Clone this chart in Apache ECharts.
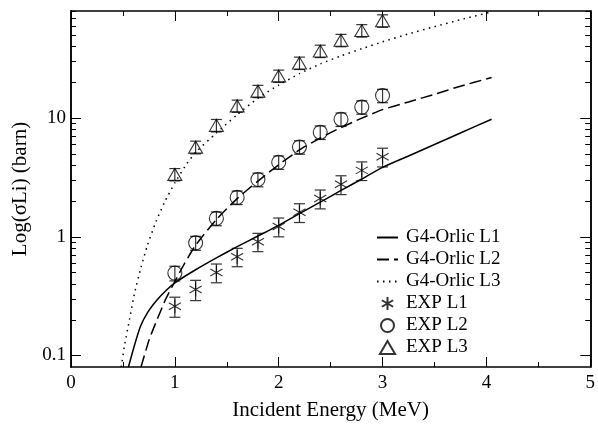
<!DOCTYPE html>
<html>
<head>
<meta charset="utf-8">
<script src="https://cdn.jsdelivr.net/npm/echarts@6/dist/echarts.min.js"></script>
<style>
  html, body { margin: 0; padding: 0; background: #fff; }
  #chart { width: 598px; height: 426px; }
</style>
</head>
<body>
<div id="chart"></div>
<script>
// G4-Orlic model curves (energy in MeV, cross section in barn)
const energyL1 = [0.553, 0.61, 0.67, 0.74, 0.83, 0.92, 1.0, 1.2, 1.4, 1.6, 1.8, 2.0, 2.2, 2.4, 2.6, 2.8, 3.0, 3.25, 3.5, 3.75, 4.05];
const sigmaL1 = [0.08, 0.121, 0.177, 0.232, 0.295, 0.357, 0.41, 0.528, 0.665, 0.826, 1.016, 1.25, 1.57, 1.96, 2.46, 3.07, 3.85, 4.8, 6.0, 7.5, 9.8];

const energyL2 = [0.674, 0.754, 0.833, 0.913, 1.0, 1.09, 1.2, 1.4, 1.6, 1.8, 2.0, 2.2, 2.4, 2.6, 2.8, 3.0, 3.25, 3.5, 3.75, 4.05];
const sigmaL2 = [0.08, 0.137, 0.205, 0.30, 0.42, 0.59, 0.85, 1.4, 2.1, 2.95, 4.05, 5.4, 6.8, 8.35, 10.0, 11.8, 13.7, 15.9, 18.6, 22.0];

const energyL3 = [0.484, 0.515, 0.563, 0.611, 0.674, 0.738, 0.818, 0.9, 1.0, 1.1, 1.2, 1.4, 1.6, 1.8, 2.0, 2.2, 2.4, 2.6, 2.8, 3.0, 3.25, 3.5, 3.75, 4.05];
const sigmaL3 = [0.08, 0.121, 0.2, 0.333, 0.552, 0.86, 1.34, 1.95, 2.85, 3.95, 5.15, 7.5, 10.7, 14.7, 19.0, 23.7, 28.6, 33.5, 38.5, 44, 51.3, 59, 67.6, 78.6];

// experimental points and their errors
const expEnergy = [1.0, 1.2, 1.4, 1.6, 1.8, 2.0, 2.2, 2.4, 2.6, 2.8, 3.0];
const expL1 = [0.26, 0.36, 0.50, 0.68, 0.91, 1.22, 1.61, 2.1, 2.77, 3.63, 4.73];
const expL2 = [0.495, 0.89, 1.43, 2.15, 3.04, 4.25, 5.71, 7.6, 9.78, 12.4, 15.5];
const expL3 = [3.36, 5.7, 8.7, 12.7, 16.9, 22.7, 29.2, 36.8, 45.4, 54.8, 66.3];
const errL1 = [0.05, 0.07, 0.09, 0.12, 0.16, 0.22, 0.29, 0.38, 0.5, 0.65, 0.85];
const errL2 = [0.07, 0.12, 0.19, 0.28, 0.4, 0.55, 0.74, 0.99, 1.27, 1.6, 2.0];
const errL3 = [0.4, 0.7, 1.05, 1.5, 2.0, 2.7, 3.5, 4.4, 5.4, 6.6, 8.0];

// axis ticks
const xTicks = [0, 1, 2, 3, 4, 5];
const yMajorTicks = [0.1, 1, 10];
const yMinorTicks = [0.2, 0.3, 0.4, 0.5, 0.6, 0.7, 0.8, 0.9, 2, 3, 4, 5, 6, 7, 8, 9, 20, 30, 40, 50, 60, 70, 80];

const FONT = '"Liberation Serif", "DejaVu Serif", serif';
const zip = (xs, ys) => xs.map((x, i) => [x, ys[i]]);
const errData = (ys, es) => expEnergy.map((x, i) => [x, ys[i] - es[i], ys[i] + es[i]]);

function errorBar(params, api) {
  const lo = api.coord([api.value(0), api.value(1)]);
  const hi = api.coord([api.value(0), api.value(2)]);
  const w = 5.5;
  const style = { stroke: '#333', lineWidth: 1.2 };
  return {
    type: 'group',
    children: [
      { type: 'line', shape: { x1: lo[0], y1: lo[1], x2: hi[0], y2: hi[1] }, style },
      { type: 'line', shape: { x1: lo[0] - w, y1: lo[1], x2: lo[0] + w, y2: lo[1] }, style },
      { type: 'line', shape: { x1: hi[0] - w, y1: hi[1], x2: hi[0] + w, y2: hi[1] }, style }
    ]
  };
}

const chart = echarts.init(document.getElementById('chart'));

const xBase = {
  type: 'value', min: 0, max: 5, interval: 1,
  axisLine: { lineStyle: { color: '#000', width: 1.5 } },
  axisTick: { inside: true, length: 10, lineStyle: { color: '#000' } },
  minorTick: { show: true, splitNumber: 2, length: 5, lineStyle: { color: '#000' } },
  splitLine: { show: false }
};
const yBase = {
  type: 'log', logBase: 10, min: 0.08, max: 80,
  axisLine: { show: true, lineStyle: { color: '#000', width: 1.5 } },
  splitLine: { show: false }
};
const hideSymbol = { itemStyle: { opacity: 0 } };

chart.setOption({
  animation: false,
  textStyle: { fontFamily: FONT },
  grid: { left: 71, right: 4, top: 11, bottom: 50 },
  xAxis: [
    Object.assign({}, xBase, {
      position: 'bottom',
      name: 'Incident Energy (MeV)', nameLocation: 'middle', nameGap: 33,
      nameTextStyle: { fontFamily: FONT, fontSize: 21, color: '#000' },
      axisLabel: { color: '#000', fontFamily: FONT, fontSize: 19, margin: 7, customValues: xTicks }
    }),
    Object.assign({}, xBase, { position: 'top', axisLabel: { show: false } })
  ],
  yAxis: [
    Object.assign({}, yBase, {
      position: 'left',
      name: 'Log(σLi) (barn)', nameLocation: 'middle', nameGap: 36, nameRotate: 90,
      nameTextStyle: { fontFamily: FONT, fontSize: 21, color: '#000' },
      axisTick: { inside: true, length: 10, customValues: yMajorTicks, lineStyle: { color: '#000' } },
      axisLabel: { color: '#000', fontFamily: FONT, fontSize: 19, margin: 5, customValues: yMajorTicks,
        formatter: v => String(v) }
    }),
    Object.assign({}, yBase, {
      position: 'left',
      axisTick: { inside: true, length: 5, customValues: yMinorTicks, lineStyle: { color: '#000' } },
      axisLabel: { show: false }
    }),
    Object.assign({}, yBase, {
      position: 'right',
      axisTick: { inside: true, length: 10, customValues: yMajorTicks, lineStyle: { color: '#000' } },
      axisLabel: { show: false }
    }),
    Object.assign({}, yBase, {
      position: 'right',
      axisTick: { inside: true, length: 5, customValues: yMinorTicks, lineStyle: { color: '#000' } },
      axisLabel: { show: false }
    })
  ],
  legend: {
    orient: 'vertical', left: 376, top: 228, padding: 0,
    itemWidth: 21, itemHeight: 13, itemGap: 3,
    textStyle: { fontFamily: FONT, fontSize: 19, color: '#000', padding: [0, 0, 0, 3] },
    data: [
      Object.assign({ name: 'G4-Orlic L1' }, hideSymbol),
      Object.assign({ name: 'G4-Orlic L2' }, hideSymbol),
      Object.assign({ name: 'G4-Orlic L3' }, hideSymbol),
      'EXP L1', 'EXP L2', 'EXP L3'
    ]
  },
  series: [
    {
      name: 'G4-Orlic L1', type: 'line', data: zip(energyL1, sigmaL1),
      symbol: 'none', smooth: 0.2, itemStyle: { color: '#000' },
      lineStyle: { color: '#000', width: 1.5, type: 'solid' }
    },
    {
      name: 'G4-Orlic L2', type: 'line', data: zip(energyL2, sigmaL2),
      symbol: 'none', smooth: 0.2, itemStyle: { color: '#000' },
      lineStyle: { color: '#000', width: 1.5, type: [12, 5] }
    },
    {
      name: 'G4-Orlic L3', type: 'line', data: zip(energyL3, sigmaL3),
      symbol: 'none', smooth: 0.2, itemStyle: { color: '#000' },
      lineStyle: { color: '#000', width: 1.5, type: [1.5, 4.5] }
    },
    { name: 'errL1', type: 'custom', renderItem: errorBar, data: errData(expL1, errL1), encode: { x: 0, y: [1, 2] }, z: 3 },
    { name: 'errL2', type: 'custom', renderItem: errorBar, data: errData(expL2, errL2), encode: { x: 0, y: [1, 2] }, z: 3 },
    { name: 'errL3', type: 'custom', renderItem: errorBar, data: errData(expL3, errL3), encode: { x: 0, y: [1, 2] }, z: 3 },
    {
      name: 'EXP L1', type: 'scatter', data: zip(expEnergy, expL1), z: 4,
      symbol: 'path://M0,-10L0,10M-8.66,-5L8.66,5M-8.66,5L8.66,-5', symbolSize: 14, symbolKeepAspect: true,
      itemStyle: { color: 'transparent', borderColor: '#000', borderWidth: 1.1 }
    },
    {
      name: 'EXP L2', type: 'scatter', data: zip(expEnergy, expL2), z: 4,
      symbol: 'circle', symbolSize: 14,
      itemStyle: { color: 'transparent', borderColor: '#000', borderWidth: 1.1 }
    },
    {
      name: 'EXP L3', type: 'scatter', data: zip(expEnergy, expL3), z: 4,
      symbol: 'path://M0,-6L7,6L-7,6Z', symbolSize: 14, symbolKeepAspect: true,
      itemStyle: { color: 'transparent', borderColor: '#000', borderWidth: 1.1 }
    }
  ]
});
window.addEventListener('resize', () => chart.resize());
</script>
</body>
</html>
